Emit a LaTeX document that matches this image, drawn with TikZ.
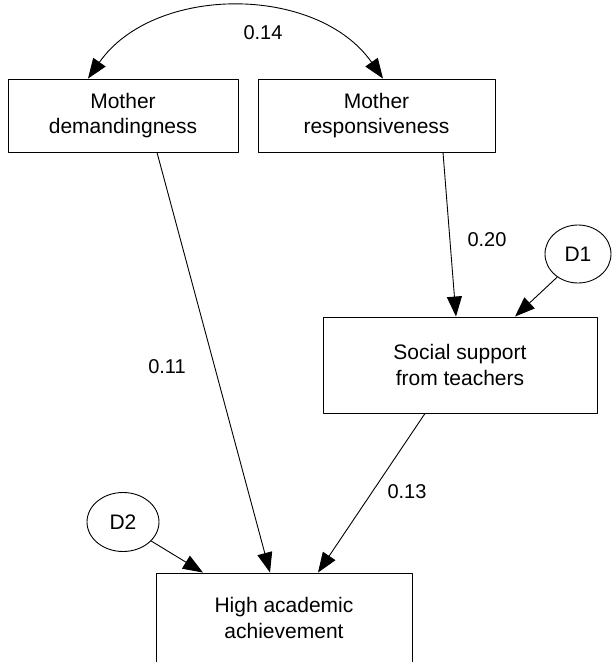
\documentclass[tikz,border=0pt]{standalone}
\usepackage{fontspec}
\setmainfont{Liberation Sans}
\usetikzlibrary{arrows.meta,shapes.geometric}
\begin{document}
\begin{tikzpicture}[x=1pt, y=1pt, font=\fontsize{20}{24}\selectfont, line join=round, >={Triangle[length=20pt,width=15pt]},
    var/.style={draw, line width=0.9pt, align=center, inner sep=0pt, font=\fontsize{21}{25.5}\selectfont},
    err/.style={draw, ellipse, line width=0.9pt, inner sep=0pt, font=\fontsize{21}{25.5}\selectfont},
    link/.style={->, line width=0.9pt}]
    \useasboundingbox (0,0) rectangle (613,-662);
    \clip (0,0) rectangle (613,-662);
    % variables
    \node[var, minimum width=230, minimum height=73] (md) at (123,-115.5) {Mother\\demandingness};
    \node[var, minimum width=237, minimum height=73] (mr) at (376.5,-115.5) {Mother\\responsiveness};
    \node[var, minimum width=274, minimum height=96] (ss) at (460,-365) {Social support\\from teachers};
    \node[var, minimum width=256, minimum height=90] (haa) at (284,-618) {High academic\\achievement};
    % disturbances
    \node[err, minimum width=66, minimum height=58] (d1) at (578,-254) {D1};
    \node[err, minimum width=72, minimum height=59] (d2) at (123,-522) {D2};
    % paths
    \draw[link, <->] ([xshift=-35pt]md.north) to[bend left=55] ([xshift=6.5pt]mr.north);
    \draw[link] ([xshift=34pt]md.south) -- ([xshift=-14pt]haa.north);
    \draw[link] ([xshift=66.5pt]mr.south) -- ([xshift=-4pt]ss.north);
    \draw[link] (d1.228) -- ([xshift=55pt]ss.north);
    \draw[link] ([xshift=-35pt]ss.south) -- ([xshift=34pt]haa.north);
    \draw[link] (d2.-34) -- ([xshift=-81pt]haa.north);
    % coefficients
    \foreach \x/\y/\lbl in {263/-33/0.14, 487/-240/0.20, 167/-367/0.11, 407/-492/0.13}
        \node at (\x,\y) {\lbl};
\end{tikzpicture}
\end{document}
